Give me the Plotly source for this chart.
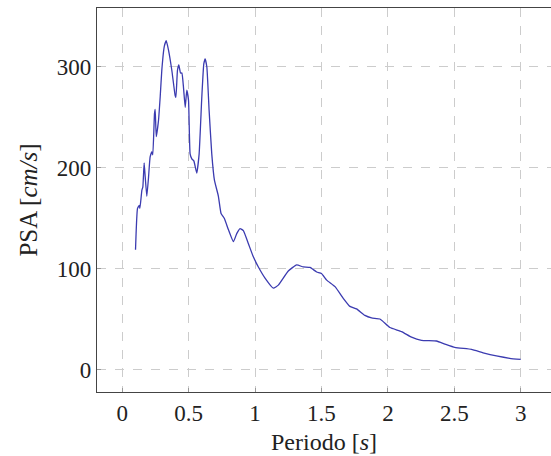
import plotly.graph_objects as go

periodo = [0.100, 0.115, 0.128, 0.133, 0.148, 0.155, 0.165, 0.173, 0.185, 0.198,
           0.210, 0.223, 0.230, 0.243, 0.248, 0.256, 0.273, 0.286, 0.298, 0.316,
           0.331, 0.348, 0.373, 0.398, 0.404, 0.416, 0.426, 0.439, 0.449, 0.461,
           0.474, 0.486, 0.499, 0.511, 0.524, 0.539, 0.561, 0.579, 0.599, 0.614,
           0.624, 0.637, 0.654, 0.674, 0.694, 0.724, 0.744, 0.769, 0.799, 0.837,
           0.862, 0.887, 0.912, 0.950, 0.987, 1.025, 1.075, 1.138, 1.175, 1.250,
           1.313, 1.363, 1.414, 1.464, 1.500, 1.539, 1.602, 1.664, 1.714, 1.764,
           1.827, 1.877, 1.940, 2.015, 2.103, 2.178, 2.253, 2.366, 2.429, 2.504,
           2.629, 2.717, 2.817, 2.917, 3.000]
psa = [119, 160, 163, 160, 178, 181, 205, 191, 172, 191,
       211, 216, 213, 254, 258, 231, 247, 271, 297, 320,
       326, 317, 297, 272, 270, 297, 302, 294, 294, 280,
       260, 277, 267, 214, 209, 207, 195, 214, 270, 303,
       308, 300, 257, 214, 188, 172, 155, 150, 139, 127,
       135, 140, 138, 125, 112, 102, 91, 81, 84, 98,
       104, 102, 101.5, 97, 95.5, 89, 82.5, 71, 63, 60.5,
       54, 51.5, 50.5, 42, 38, 32.5, 29.4, 28.7, 25.7, 22.4,
       20.4, 17, 13.9, 11.6, 10.5]

x_ticks = [0, 0.5, 1, 1.5, 2, 2.5, 3]
x_ticklabels = ["0", "0.5", "1", "1.5", "2", "2.5", "3"]
y_ticks = [0, 100, 200, 300]
y_ticklabels = ["0", "100", "200", "300"]

font_family = "Liberation Serif, DejaVu Serif, serif"

fig = go.Figure()
fig.add_trace(go.Scatter(
    x=periodo, y=psa, mode="lines",
    line=dict(color="#3b3bb0", width=1.3, shape="spline", smoothing=0.4),
    showlegend=False, hoverinfo="skip"))

fig.update_layout(
    width=551, height=456,
    margin=dict(l=97, r=0, t=8, b=64),
    paper_bgcolor="white", plot_bgcolor="white",
    font=dict(family=font_family, size=23, color="#222222"),
    xaxis=dict(
        range=[-0.19, 3.228],
        tickvals=x_ticks, ticktext=x_ticklabels,
        showgrid=True, gridcolor="#cccccc", griddash="dash", gridwidth=1,
        zeroline=False,
        showline=True, linecolor="#444444", linewidth=1.3, mirror=True,
        ticks="inside", ticklen=4, tickcolor="#999999",
        tickfont=dict(size=23),
        title=dict(text="Periodo [<i>s</i>]", standoff=8, font=dict(size=24)),
    ),
    yaxis=dict(
        range=[-21.8, 358.4],
        tickvals=y_ticks, ticktext=y_ticklabels,
        showgrid=True, gridcolor="#cccccc", griddash="dash", gridwidth=1,
        zeroline=False,
        showline=True, linecolor="#444444", linewidth=1.3, mirror=False,
        ticks="inside", ticklen=4, tickcolor="#999999",
        tickfont=dict(size=23),
        title=dict(text="PSA [<i>cm/s</i>]", standoff=12, font=dict(size=25)),
    ),
)

fig.write_html("out.html")
